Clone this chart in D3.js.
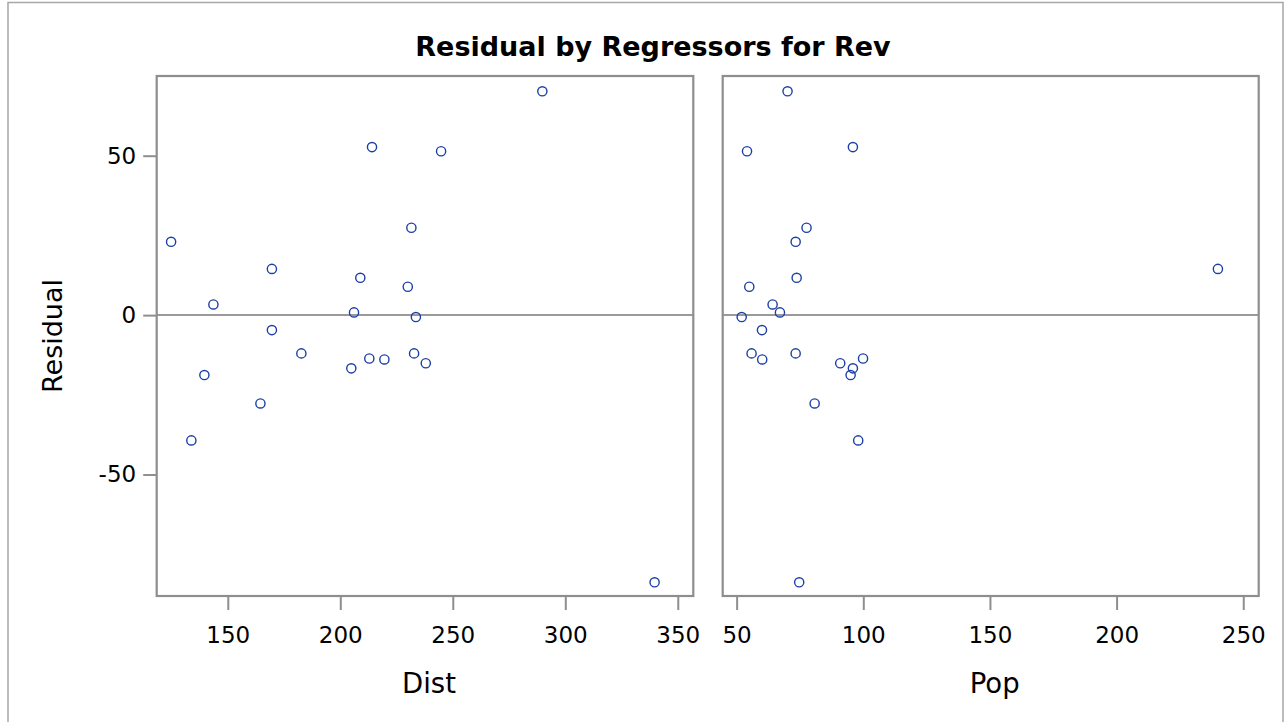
<!DOCTYPE html>
<html>
<head>
<meta charset="utf-8">
<script src="https://cdn.jsdelivr.net/npm/d3@7"></script>
<style>
  html, body { margin: 0; padding: 0; background: #fff; }
  svg { display: block; }
  text { font-family: "DejaVu Sans", "Noto Sans", sans-serif; fill: #000; }
</style>
</head>
<body>
<svg id="chart" width="1285" height="722"></svg>
<script>
// ---- Data ----
const title = "Residual by Regressors for Rev";
const dist = [124.8, 143.6, 169.6, 214.1, 231.6, 208.9, 230.0, 206.1, 233.6, 169.6, 289.8,
              244.8, 182.7, 232.8, 139.6, 164.5, 133.8, 204.9, 212.9, 219.6, 238.0, 339.7];
const pop  = [73.3, 64.2, 240.0, 95.9, 77.6, 73.7, 55.0, 67.1, 52.0, 60.0, 70.1,
              54.1, 55.9, 73.3, 95.0, 80.8, 98.0, 95.9, 99.9, 60.1, 90.9, 74.7];
const residual = [23.0, 3.35, 14.5, 52.7, 27.4, 11.7, 8.9, 0.85, -0.6, -4.7, 70.2,
                  51.4, -12.0, -12.0, -18.8, -27.7, -39.3, -16.7, -13.6, -13.9, -15.1, -83.8];
const yTicks = [-50, 0, 50];
const distTicks = [150, 200, 250, 300, 350];
const popTicks = [50, 100, 150, 200, 250];
const yDomain = [-88.1, 75.0];
const distDomain = [118.4, 356.9];
const popDomain = [44.5, 256.1];

// ---- Layout ----
const svg = d3.select("#chart");
const plotTop = 76, plotBottom = 596;
const panels = [
  { name: "Dist", x: dist, ticks: distTicks, domain: distDomain, left: 156.7, right: 693.3 },
  { name: "Pop",  x: pop,  ticks: popTicks,  domain: popDomain,  left: 722.7, right: 1258.7 }
];
const gray = "#8e8e8e";
const markColor = "#1a3fa6";
const fmt = d => String(d);

// outer border
svg.append("rect")
  .attr("x", 8).attr("y", 2.5).attr("width", 1275).attr("height", 740)
  .attr("fill", "none").attr("stroke", "#a6a6a6").attr("stroke-width", 1.5);

// title
svg.append("text")
  .attr("x", 653).attr("y", 56)
  .attr("text-anchor", "middle")
  .style("font-size", "27px").style("font-weight", "bold")
  .text(title);

const y = d3.scaleLinear().domain(yDomain).range([plotBottom, plotTop]);

panels.forEach((p, pi) => {
  const x = d3.scaleLinear().domain(p.domain).range([p.left, p.right]);
  const g = svg.append("g");

  // zero reference line
  g.append("line")
    .attr("x1", p.left).attr("x2", p.right)
    .attr("y1", y(0)).attr("y2", y(0))
    .attr("stroke", "#9a9a9a").attr("stroke-width", 2);

  // points
  g.selectAll("circle").data(p.x.map((v, i) => [v, residual[i]]))
    .enter().append("circle")
    .attr("cx", d => x(d[0])).attr("cy", d => y(d[1]))
    .attr("r", 4.6)
    .attr("fill", "none").attr("stroke", markColor).attr("stroke-width", 1.4);

  // frame
  g.append("rect")
    .attr("x", p.left).attr("y", plotTop)
    .attr("width", p.right - p.left).attr("height", plotBottom - plotTop)
    .attr("fill", "none").attr("stroke", gray).attr("stroke-width", 2.2);

  // x axis
  const xAxis = d3.axisBottom(x).tickValues(p.ticks).tickSize(13).tickPadding(5).tickFormat(fmt);
  const xa = svg.append("g").attr("transform", `translate(0,${plotBottom + 1})`).call(xAxis);
  xa.select(".domain").remove();
  xa.selectAll(".tick line").attr("stroke", gray).attr("stroke-width", 2);
  xa.selectAll(".tick text").style("font-size", "23px").style("font-family", '"DejaVu Sans", sans-serif')
    .attr("fill", "#000").attr("dy", "0").attr("y", 46);

  // x label
  svg.append("text")
    .attr("x", (p.left + p.right) / 2 + 4).attr("y", 693)
    .attr("text-anchor", "middle")
    .style("font-size", "27.5px")
    .text(p.name);

  if (pi === 0) {
    const yAxis = d3.axisLeft(y).tickValues(yTicks).tickSize(13).tickPadding(7).tickFormat(fmt);
    const ya = svg.append("g").attr("transform", `translate(${p.left - 0.5},0)`).call(yAxis);
    ya.select(".domain").remove();
    ya.selectAll(".tick line").attr("stroke", gray).attr("stroke-width", 2);
    ya.selectAll(".tick text").style("font-size", "23px").style("font-family", '"DejaVu Sans", sans-serif')
      .attr("fill", "#000");
  }
});

// y label
svg.append("text")
  .attr("transform", `translate(61.5,${(plotTop + plotBottom) / 2}) rotate(-90)`)
  .attr("text-anchor", "middle")
  .style("font-size", "27px")
  .text("Residual");
</script>
</body>
</html>
